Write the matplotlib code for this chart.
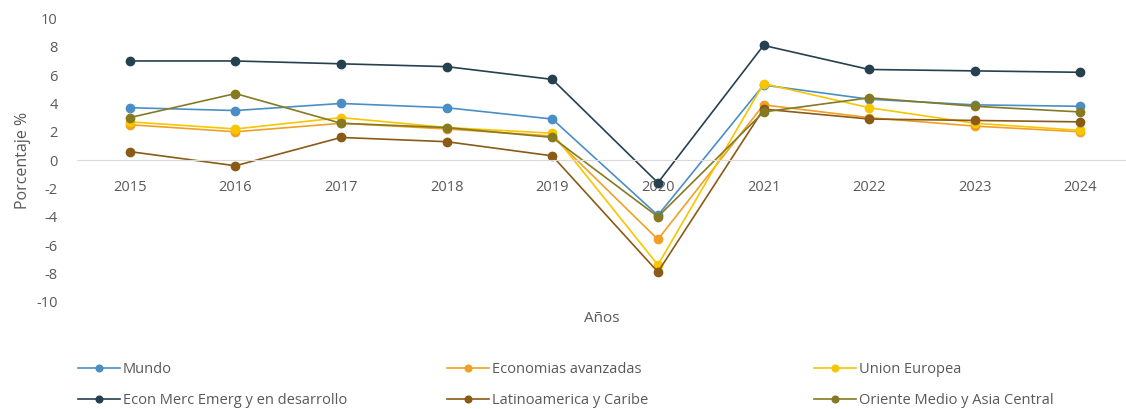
import matplotlib.pyplot as plt

plt.rcParams['font.family'] = ['Open Sans', 'DejaVu Sans']
plt.rcParams['axes.unicode_minus'] = False

years = ['2015', '2016', '2017', '2018', '2019', '2020', '2021', '2022', '2023', '2024']

mundo = [3.7, 3.5, 4.0, 3.7, 2.9, -3.9, 5.3, 4.3, 3.9, 3.8]
avanzadas = [2.5, 2.0, 2.6, 2.2, 1.7, -5.6, 3.9, 3.0, 2.4, 2.0]
union_europea = [2.7, 2.2, 3.0, 2.3, 1.9, -7.4, 5.4, 3.7, 2.6, 2.1]
emergentes = [7.0, 7.0, 6.8, 6.6, 5.7, -1.6, 8.1, 6.4, 6.3, 6.2]
latam = [0.6, -0.4, 1.6, 1.3, 0.3, -7.9, 3.6, 2.9, 2.8, 2.7]
oriente = [3.0, 4.7, 2.6, 2.3, 1.6, -4.0, 3.4, 4.4, 3.8, 3.4]

series = [
    ('Mundo', mundo, '#4b8ec4'),
    ('Economias avanzadas', avanzadas, '#f0a025'),
    ('Union Europea', union_europea, '#f7c600'),
    ('Econ Merc Emerg y en desarrollo', emergentes, '#26404f'),
    ('Latinoamerica y Caribe', latam, '#8a5a16'),
    ('Oriente Medio y Asia Central', oriente, '#857a22'),
]

fig = plt.figure(figsize=(11.26, 4.09), dpi=100)
ax = fig.add_axes([0.0684, 0.2623, 0.938, 0.6925])

x = range(len(years))
handles = {}
for name, vals, col in series:
    h, = ax.plot(x, vals, color=col, lw=1.2, marker='o', ms=6, label=name)
    handles[name] = h

ax.set_xlim(-0.5, 9.5)
ax.set_ylim(-10, 10)
ax.set_yticks(range(-10, 11, 2))
ax.set_xticks(list(x))
ax.set_xticklabels(years)

# horizontal axis sits on zero, everything else hidden
for s in ['top', 'right', 'left']:
    ax.spines[s].set_visible(False)
ax.spines['bottom'].set_position(('data', 0))
ax.spines['bottom'].set_color('#d9d9d9')
ax.tick_params(axis='both', length=0, colors='#595959', labelsize=10.5)
ax.tick_params(axis='x', pad=14)
ax.tick_params(axis='y', pad=14)

ax.set_ylabel('Porcentaje %', color='#595959', fontsize=11.5, labelpad=4)
fig.text(0.534, 0.222, 'Años', color='#595959', fontsize=11, ha='center', va='center')

# legend in three columns, two rows
cols = [
    (['Mundo', 'Econ Merc Emerg y en desarrollo'], 0.069),
    (['Economias avanzadas', 'Latinoamerica y Caribe'], 0.397),
    (['Union Europea', 'Oriente Medio y Asia Central'], 0.723),
]
for names, xpos in cols:
    leg = fig.legend([handles[n] for n in names], names, loc='center left',
                     bbox_to_anchor=(xpos, 0.0587), frameon=False,
                     fontsize=10.5, handlelength=2.9, handletextpad=0.2,
                     labelspacing=1.05, borderaxespad=0, borderpad=0,
                     markerscale=0.8)
    for t in leg.get_texts():
        t.set_color('#595959')

plt.savefig('out.png', dpi=100)
plt.close()
